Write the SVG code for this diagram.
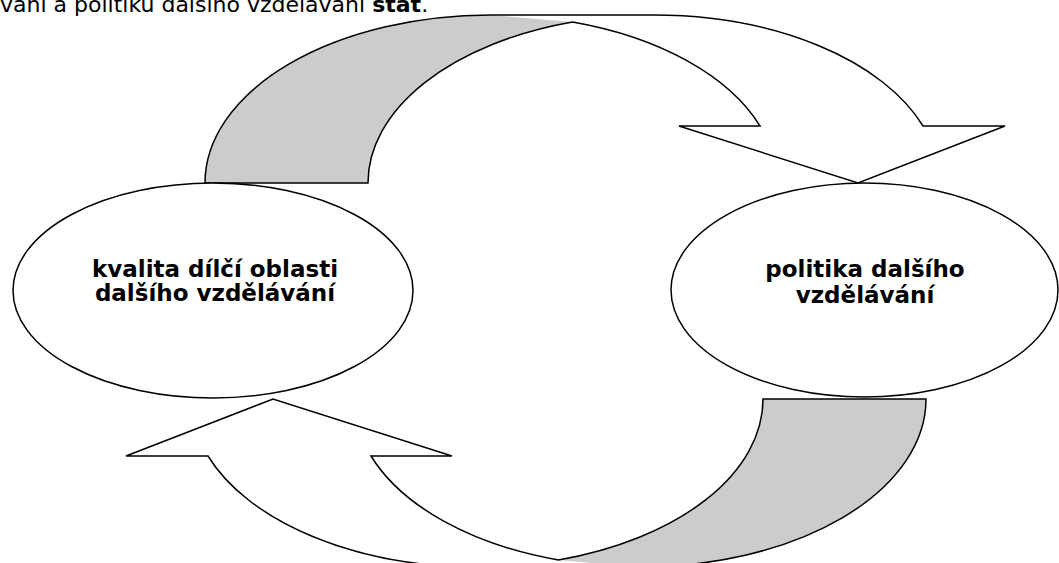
<svg xmlns="http://www.w3.org/2000/svg" width="1059" height="563" viewBox="0 0 1059 563">
<style>
.front{fill:#ffffff;stroke:none}
.back{fill:#cccccc;stroke:none}
.edge{fill:none;stroke:#000000;stroke-width:1.5;stroke-linejoin:miter}
.node{fill:#ffffff;stroke:#000000;stroke-width:1.5}
.lbl{font-family:"DejaVu Sans",Verdana,sans-serif;font-weight:bold;font-size:23px;fill:#000000;text-anchor:middle}
.top{font-family:"DejaVu Sans",Verdana,sans-serif;font-size:22px;fill:#000000}
</style>
<defs>
<g id="curvedArrow">
<path class="front" d="M858 183 L679 126 L760 126 A286 168 0 0 0 491 15 L654 15 A286 168 0 0 1 923 126 L1005 126 Z"/>
<path class="back" d="M572.5 22 A286 168 0 0 0 368 183 L205 183 A286 168 0 0 1 491 15 Z"/>
<path class="edge" d="M572.5 22 A286 168 0 0 0 368 183 L205 183 A286 168 0 0 1 491 15 L654 15 A286 168 0 0 1 923 126 L1005 126 L858 183 L679 126 L760 126 A286 168 0 0 0 572.5 22"/>
</g>
</defs>
<text class="top" x="0" y="11.5">vání a politiku dalšího vzdělávání <tspan font-weight="bold">stát</tspan>.</text>
<g id="connectors">
<use id="arrow-top" href="#curvedArrow"/>
<use id="arrow-bottom" href="#curvedArrow" transform="rotate(180 565.5 291)"/>
</g>
<g id="node-kvalita">
<ellipse class="node" cx="213" cy="290.5" rx="200" ry="107.5"/>
<text class="lbl" x="215" y="277">kvalita dílčí oblasti</text>
<text class="lbl" x="215" y="301">dalšího vzdělávání</text>
</g>
<g id="node-politika">
<ellipse class="node" cx="864.5" cy="290" rx="193.5" ry="107"/>
<text class="lbl" x="865" y="277">politika dalšího</text>
<text class="lbl" x="865" y="303">vzdělávání</text>
</g>
</svg>
